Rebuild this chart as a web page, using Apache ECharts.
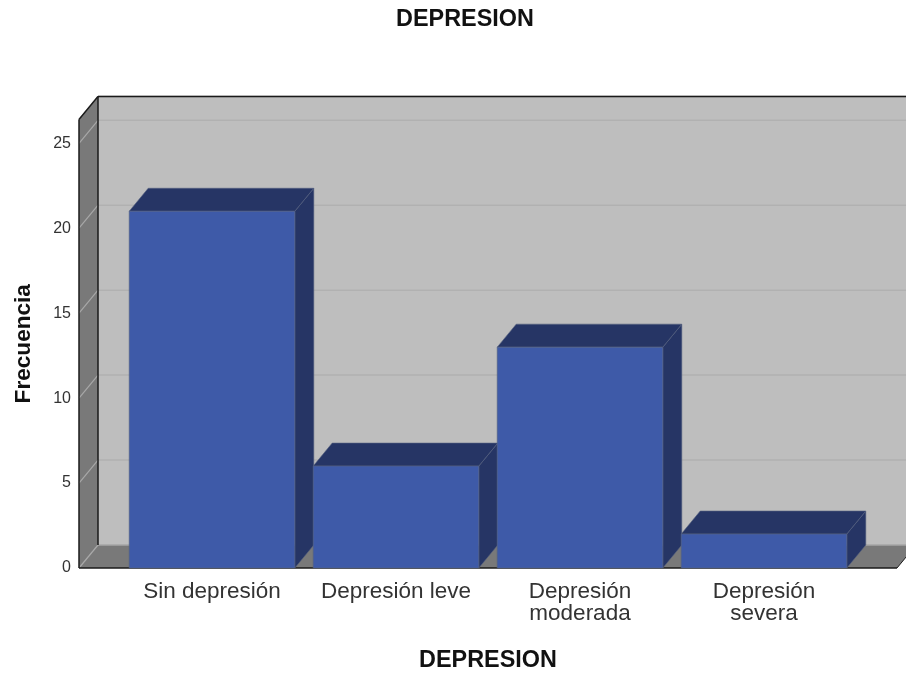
<!DOCTYPE html>
<html>
<head>
<meta charset="utf-8">
<style>html,body{margin:0;padding:0;background:#fff}#chart{width:906px;height:675px}</style>
<script src="https://cdn.jsdelivr.net/npm/echarts@6/dist/echarts.min.js"></script>
</head>
<body>
<div id="chart"></div>
<script>
const categories = ['Sin depresión', 'Depresión leve', 'Depresión\nmoderada', 'Depresión\nsevera'];
const frequencies = [21, 6, 13, 2];
const yTicks = [0, 5, 10, 15, 20, 25];
const yTop = 26.4;

// Oblique depth of the box, in pixels
const DX = 19, DY = 23;
const FRONT_LEFT = 79, FRONT_RIGHT = 897;

const C = {
  wall: '#bebebe', side: '#797979', front: '#3e5aa8', dark: '#263565',
  ink: '#1a1a1a', gridBack: '#b1b1b1', gridSide: '#a8a8a8', edge: '#56617f'
};

const poly = (points, fill, stroke, lw) => ({
  type: 'polygon',
  shape: { points },
  style: { fill, stroke: stroke || null, lineWidth: lw || 0 }
});
const seg = (x1, y1, x2, y2, stroke, lw) => ({
  type: 'line',
  shape: { x1, y1, x2, y2 },
  style: { stroke, lineWidth: lw || 1 }
});

function renderBox(params, api) {
  const y0 = api.coord([0, 0])[1];
  const yT = api.coord([0, yTop])[1];
  const xB = FRONT_LEFT + DX, yB = y0 - DY, yTB = yT - DY;
  const children = [
    poly([[xB, yTB], [FRONT_RIGHT + DX, yTB], [FRONT_RIGHT + DX, yB], [xB, yB]], C.wall),
    poly([[FRONT_LEFT, y0], [xB, yB], [FRONT_RIGHT + DX, yB], [FRONT_RIGHT, y0]], C.side),
    poly([[FRONT_LEFT, yT], [xB, yTB], [xB, yB], [FRONT_LEFT, y0]], C.side)
  ];
  yTicks.concat(yTop).forEach(v => {
    const y = api.coord([0, v])[1];
    if (v > 0) {
      children.push(seg(FRONT_LEFT, y, xB, y - DY, C.gridSide, 1.2));
      children.push(seg(xB, y - DY, FRONT_RIGHT + DX, y - DY, C.gridBack, 1.5));
    }
  });
  children.push(seg(FRONT_LEFT, y0, xB, yB, C.gridSide, 1.2));
  children.push(seg(xB, yB, FRONT_RIGHT + DX, yB, '#a6a6a6', 1.5));
  children.push(seg(xB, yTB, FRONT_RIGHT + DX, yTB, C.ink, 1.5));
  children.push(seg(xB, yTB, xB, yB, C.ink, 1.5));
  children.push(seg(FRONT_LEFT, yT, xB, yTB, C.ink, 1.5));
  children.push(seg(FRONT_LEFT, yT, FRONT_LEFT, y0, C.ink, 1.5));
  children.push(seg(FRONT_LEFT, y0, FRONT_RIGHT, y0, C.ink, 1.5));
  children.push(seg(FRONT_RIGHT, y0, FRONT_RIGHT + DX, yB, C.ink, 1));
  return { type: 'group', children };
}

function renderBar(params, api) {
  const c = api.value(0), v = api.value(1);
  const [xc, yT] = api.coord([c, v]);
  const y0 = api.coord([c, 0])[1];
  const w = api.size([1, 0])[0] * 0.9;
  const x0 = xc - w / 2, x1 = xc + w / 2;
  return {
    type: 'group',
    children: [
      poly([[x1, yT], [x1 + DX, yT - DY], [x1 + DX, y0 - DY], [x1, y0]], C.dark, C.edge, 0.6),
      poly([[x0, yT], [x0 + DX, yT - DY], [x1 + DX, yT - DY], [x1, yT]], C.dark, C.edge, 0.6),
      poly([[x0, yT], [x1, yT], [x1, y0], [x0, y0]], C.front, C.edge, 0.6)
    ]
  };
}

const chart = echarts.init(document.getElementById('chart'), null, { renderer: 'canvas' });
chart.setOption({
  animation: false,
  backgroundColor: '#fff',
  title: [
    { text: 'DEPRESION', left: 460, top: 3, textAlign: 'center',
      textStyle: { fontFamily: 'Liberation Sans', fontWeight: 'bold', fontSize: 23.4, color: '#111' } }
  ],
  grid: { left: 120, right: 50, top: 119.5, bottom: 107, containLabel: false, outerBoundsMode: 'none' },
  xAxis: {
    type: 'category',
    data: categories,
    name: 'DEPRESION',
    nameLocation: 'middle',
    nameGap: 81,
    nameTextStyle: { fontFamily: 'Liberation Sans', fontWeight: 'bold', fontSize: 23.4, color: '#111' },
    axisLine: { show: false },
    axisTick: { show: false },
    axisLabel: { interval: 0, margin: 13, fontFamily: 'Liberation Sans', fontSize: 22.5, lineHeight: 22, color: '#333' }
  },
  yAxis: {
    type: 'value',
    min: 0,
    max: yTop,
    interval: 5,
    name: 'Frecuencia',
    nameLocation: 'middle',
    nameGap: 85,
    nameTextStyle: { fontFamily: 'Liberation Sans', fontWeight: 'bold', fontSize: 22.6, color: '#111' },
    axisLine: { show: false },
    axisTick: { show: false },
    splitLine: { show: false },
    axisLabel: { showMaxLabel: false, margin: 49, padding: [4, 0, 0, 0], fontFamily: 'Liberation Sans', fontSize: 16, color: '#333' }
  },
  series: [
    { type: 'custom', silent: true, clip: false, z: 1, data: [[0, 0]], renderItem: renderBox,
      encode: { x: 0, y: 1 } },
    { type: 'custom', clip: false, z: 2, renderItem: renderBar,
      data: frequencies.map((v, i) => [i, v]), encode: { x: 0, y: 1 } }
  ]
});
</script>
</body>
</html>
